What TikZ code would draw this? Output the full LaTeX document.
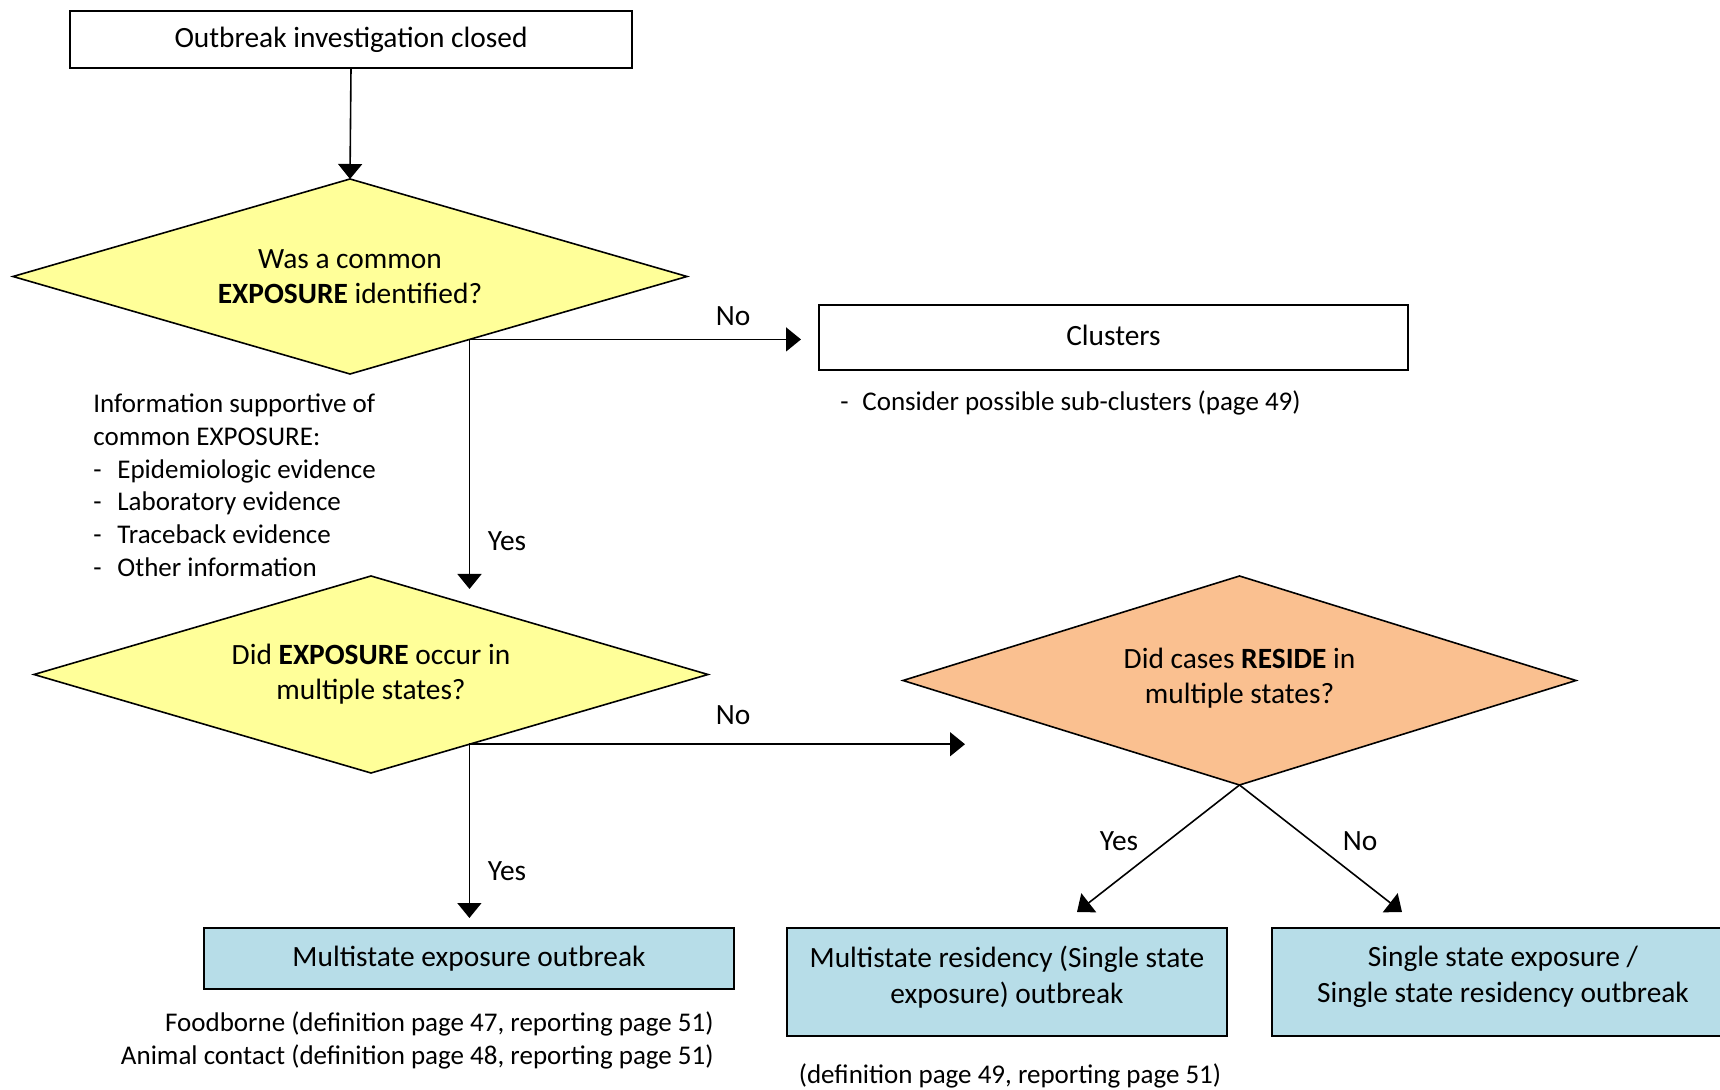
\documentclass[tikz,border=0pt]{standalone}
\usepackage{fontspec}
\setmainfont{Carlito}
\usetikzlibrary{shapes.geometric,arrows.meta,calc}
\definecolor{dyellow}{RGB}{255,255,153}
\definecolor{dorange}{RGB}{250,192,144}
\definecolor{dblue}{RGB}{183,221,232}
\begin{document}
\begin{tikzpicture}[x=0.5pt,y=-0.5pt,
  font=\fontsize{13.5}{16.4}\selectfont,
  box/.style={draw, line width=0.9pt, rectangle, inner sep=0pt, outer sep=0pt, align=center, font=\fontsize{14.7}{18}\selectfont},
  dec/.style={draw, line width=0.8pt, diamond, shape aspect=3.4, inner sep=0pt, outer sep=0pt, align=center, font=\fontsize{14.7}{17.5}\selectfont},
  arr/.style={-{Triangle[width=12pt,length=7.5pt]}, line width=0.8pt},
  lbl/.style={inner sep=0pt, font=\fontsize{14.7}{18}\selectfont},
  note/.style={inner sep=0pt}]
\useasboundingbox (0,0) rectangle (1720,1090);
\clip (0,0) rectangle (1720,1090);
% nodes
\node[box, minimum width=281pt, minimum height=28.5pt] (top) at (351,39.5) {Outbreak investigation closed};
\node[dec, fill=dyellow, minimum width=337pt, minimum height=97.5pt] (d1) at (350,276.5) {Was a common\\\textbf{EXPOSURE} identified?};
\node[box, minimum width=294.5pt, minimum height=32.5pt, text depth=2.2pt] (cl) at (1113.5,337.5) {Clusters};
\node[dec, fill=dyellow, minimum width=337pt, minimum height=98.5pt] (d2) at (371,674.5) {Did \textbf{EXPOSURE} occur in\\multiple states?};
\node[dec, fill=dorange, minimum width=336.5pt, minimum height=104.5pt, text depth=5pt] (d3) at (1239.5,680.5) {Did cases \textbf{RESIDE} in\\multiple states?};
\node[box, fill=dblue, minimum width=265pt, minimum height=30.5pt] (mse) at (469,958.5) {Multistate exposure outbreak};
\node[box, fill=dblue, minimum width=220pt, minimum height=54pt, text depth=7.4pt] (mr) at (1007,982) {Multistate residency (Single state\\exposure) outbreak};
\node[box, fill=dblue, minimum width=231pt, minimum height=54pt, text depth=7.4pt] (ss) at (1503,982) {Single state exposure /\\Single state residency outbreak};
% free texts
\node[note, anchor=north west, align=left] (info) at (93,393.5) {Information supportive of\\common EXPOSURE:\\\makebox[12pt][l]{-}Epidemiologic evidence\\\makebox[12pt][l]{-}Laboratory evidence\\\makebox[12pt][l]{-}Traceback evidence\\\makebox[12pt][l]{-}Other information};
\node[note, anchor=west] (sub) at (840,403) {\makebox[11pt][l]{-}Consider possible sub-clusters (page 49)};
\node[note, anchor=east, align=right] (msen) at (714,1040.5) {Foodborne (definition page 47, reporting page 51)\\Animal contact (definition page 48, reporting page 51)};
\node[note] (mrn) at (1010,1076) {(definition page 49, reporting page 51)};
% connector points
\coordinate (c1) at ($(d1.south)!0.3546!(d1.east)$);
\coordinate (c2) at ($(d2.south)!0.292!(d2.east)$);
\coordinate (t1) at (469.5,589);
\coordinate (t2) at (965,745);
\coordinate (ty) at (1077,912);
\coordinate (tn) at (1402,912);
% connectors
\draw[arr] (top.south) -- (d1.north);
\draw[arr, shorten >=9pt] (c1) -- (c1 -| cl.west);
\draw[arr] (c1) -- (c1 |- t1);
\draw[arr] (c2) -- (c2 -| t2);
\draw[arr, shorten >=5pt] (c2) -- (c2 |- mse.north);
\draw[arr] (d3.south) -- (ty);
\draw[arr] (d3.south) -- (tn);
% labels
\node[lbl] (no1) at (733,316) {No};
\node[lbl] (yes1) at (507,541) {Yes};
\node[lbl] (no2) at (733,715) {No};
\node[lbl] (yes2) at (507,871) {Yes};
\node[lbl] (yes3) at (1119,841) {Yes};
\node[lbl] (no3) at (1360,841) {No};
\end{tikzpicture}
\end{document}
